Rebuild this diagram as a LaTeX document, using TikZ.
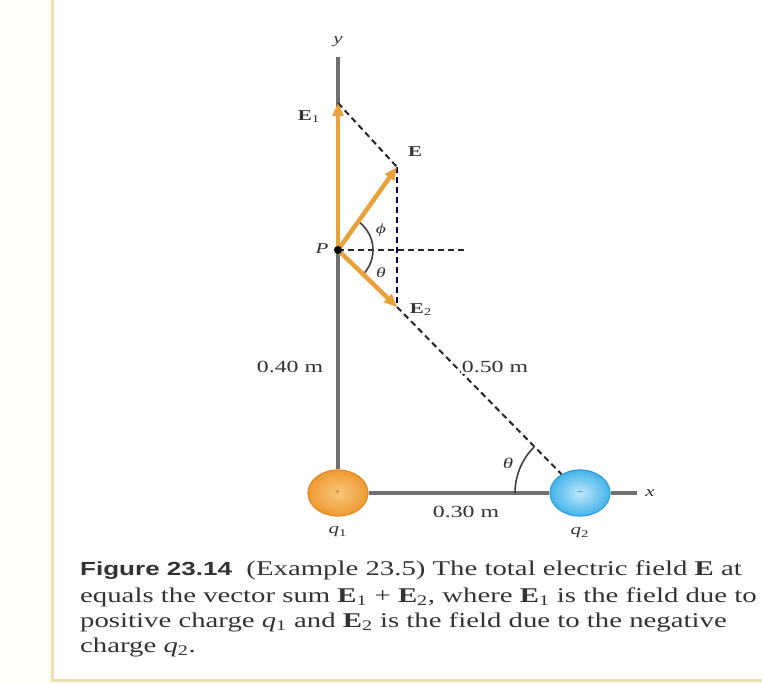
\documentclass[tikz,border=0pt]{standalone}
\usepackage{fontspec}
\usepackage{graphicx}
\setmainfont{Liberation Serif}
\newfontfamily\capsans{Liberation Sans}
\usetikzlibrary{arrows.meta,shapes.geometric,calc}
\definecolor{arrowor}{HTML}{E9A23B}
\definecolor{axisgray}{HTML}{707070}
\definecolor{framebeige}{HTML}{EEDFAE}
\definecolor{captxt}{HTML}{333333}
\definecolor{qoneIn}{HTML}{F9C77A}
\definecolor{qoneOut}{HTML}{EE9A32}
\definecolor{qoneEdge}{HTML}{E38B22}
\definecolor{qtwoIn}{HTML}{BDE7FA}
\definecolor{qtwoOut}{HTML}{45B4EA}
\definecolor{qtwoEdge}{HTML}{2E9FD8}
\newcommand\hs[2][1.4]{\scalebox{#1}[1]{#2}}
\tikzset{
  axisline/.style={draw=axisgray, line width=4pt},
  fieldarrow/.style={draw=arrowor, line width=4.5pt, -{Triangle[length=13pt,width=11pt]}},
  dashline/.style={draw=black!85, line width=2pt, dash pattern=on 6pt off 4pt},
  anglearc/.style={draw=black!75, line width=1.6pt},
  lbl/.style={inner sep=0pt, font=\fontsize{15}{18}\selectfont, text=captxt},
  dimlbl/.style={inner sep=1pt, font=\fontsize{17}{20}\selectfont, text=captxt, fill=white},
  capline/.style={inner sep=0pt, anchor=base west, font=\fontsize{21}{25}\selectfont, text=captxt},
  charge/.style={ellipse, minimum width=60pt, minimum height=46pt, inner sep=0pt, line width=1.2pt}
}
\begin{document}
\begin{tikzpicture}[x=1pt,y=1pt]
\useasboundingbox (0,0) rectangle (762,683);
% frame
\fill[yellow!4] (0,0) rectangle (52,683);
\draw[framebeige, line width=3pt] (52,683) -- (52,3) -- (762,3);
% coordinates
\coordinate (P) at (338,433);
\coordinate (E1tip) at (338,580);
\coordinate (Etip) at (397,516);
\coordinate (E2tip) at (397,376);
\coordinate (H) at (467,433);
\coordinate (ytop) at (338,626);
\coordinate (xend) at (637,190);
% charges
\node[charge, draw=qoneEdge, inner color=qoneIn, outer color=qoneOut] (q1) at (338,190) {};
\node[charge, draw=qtwoEdge, inner color=qtwoIn, outer color=qtwoOut] (q2) at (580,190) {};
% axes
\draw[axisline] (ytop) -- (q1.north);
\draw[axisline] (q1.east) -- (q2.west);
\draw[axisline] (q2.east) -- (xend);
\node[text=qoneEdge!70!black, font=\fontsize{10}{10}\selectfont] at (q1) {+};
\node[text=qtwoEdge!60!black, font=\fontsize{10}{10}\selectfont] at (q2) {--};
% dashed construction lines
\draw[dashline] (E1tip) -- (Etip);
\draw[dashline, draw=black!70!blue] (Etip) -- (E2tip);
\draw[dashline] (P) -- (H);
\draw[dashline] (E2tip) -- (q2);
% angle arcs
\draw[anglearc] ($(P)+(-44:35pt)$) arc[start angle=-44, end angle=54.6, radius=35pt];
\draw[anglearc] ($(q2)+(180:65pt)$) arc[start angle=180, end angle=135, radius=65pt];
% field arrows
\draw[fieldarrow] (P) -- (E1tip);
\draw[fieldarrow] (P) -- (Etip);
\draw[fieldarrow] (P) -- (E2tip);
\fill[black] (P) circle (4pt);
% labels
\node[lbl] (ylab) at (338,641) {\hs{\textit{y}}};
\node[lbl] (xlab) at (650,190) {\hs{\textit{x}}};
\node[lbl] (E1lab) at (309,566) {\hs{\textbf{E}\textsubscript{1}}};
\node[lbl] (Elab) at (415,531) {\hs{\textbf{E}}};
\node[lbl] (E2lab) at (421,373) {\hs{\textbf{E}\textsubscript{2}}};
\node[lbl] (Plab) at (322,434) {\hs{\textit{P}}};
\node[lbl, font=\fontsize{14}{16}\selectfont] (philab) at (381,453) {\hs{\textit{ϕ}}};
\node[lbl, font=\fontsize{14}{16}\selectfont] (thlabP) at (381,410) {\hs{\textit{θ}}};
\node[lbl, font=\fontsize{15}{18}\selectfont] (thlabq) at (508,220) {\hs{\textit{θ}}};
\node[dimlbl] (d40) at (290,316) {\hs{0.40 m}};
\node[dimlbl] (d50) at (495,316) {\hs{0.50 m}};
\node[dimlbl, fill=none] (d30) at (466,171) {\hs{0.30 m}};
\node[lbl] (q1lab) at (338,151) {\hs{\textit{q}\textsubscript{1}}};
\node[lbl] (q2lab) at (580,150) {\hs{\textit{q}\textsubscript{2}}};
% caption
\node[capline] (cap1) at (80,108) {\hs[1.37]{{\capsans\bfseries\fontsize{19}{25}\selectfont Figure 23.14}\enspace(Example 23.5) The total electric field \textbf{E} at}};
\node[capline] (cap2) at (80,81) {\hs[1.37]{equals the vector sum \textbf{E}\textsubscript{1} + \textbf{E}\textsubscript{2}, where \textbf{E}\textsubscript{1} is the field due to}};
\node[capline] (cap3) at (80,56) {\hs[1.37]{positive charge \textit{q}\textsubscript{1} and \textbf{E}\textsubscript{2} is the field due to the negative}};
\node[capline] (cap4) at (80,31) {\hs[1.37]{charge \textit{q}\textsubscript{2}.}};
\end{tikzpicture}
\end{document}
